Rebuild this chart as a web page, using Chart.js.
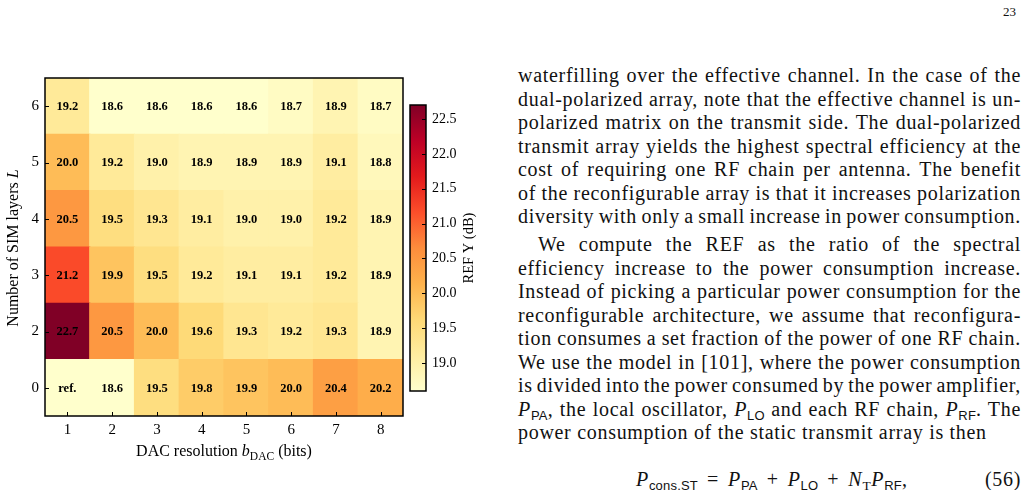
<!DOCTYPE html>
<html><head><meta charset="utf-8">
<script src="https://cdn.jsdelivr.net/npm/chart.js@4.4.1/dist/chart.umd.min.js"></script>
<style>
html,body{margin:0;padding:0;background:#fff;width:1026px;height:490px;overflow:hidden;position:relative;}
#heat{position:absolute;left:0;top:0;width:410px;height:490px;}
#cbar{position:absolute;left:400px;top:0;width:100px;height:490px;}
.ln{position:absolute;white-space:nowrap;font-family:"Liberation Serif",serif;font-size:20px;line-height:20px;letter-spacing:0.7px;color:#111;display:inline-block;}
.ss{font-family:"Liberation Sans",sans-serif;font-size:13px;letter-spacing:0.2px;position:relative;top:4px;}
.rs{font-family:"Liberation Serif",serif;font-size:13.5px;position:relative;top:4px;}
#pg{position:absolute;left:1003px;top:4px;font-family:"Liberation Serif",serif;font-size:13px;color:#111;}
</style></head>
<body>
<div id="heat"><canvas id="hc"></canvas></div>
<div id="cbar"><canvas id="cc"></canvas></div>
<div id="pg">23</div>
<div id="txt"></div>
<script>
// ---- chart data ----
const xLabels = ['1','2','3','4','5','6','7','8'];
const yLabels = ['0','2','3','4','5','6'];
const rowL0 = [null, 18.6, 19.5, 19.8, 19.9, 20.0, 20.4, 20.2];
const rowL2 = [22.7, 20.5, 20.0, 19.6, 19.3, 19.2, 19.3, 18.9];
const rowL3 = [21.2, 19.9, 19.5, 19.2, 19.1, 19.1, 19.2, 18.9];
const rowL4 = [20.5, 19.5, 19.3, 19.1, 19.0, 19.0, 19.2, 18.9];
const rowL5 = [20.0, 19.2, 19.0, 18.9, 18.9, 18.9, 19.1, 18.8];
const rowL6 = [19.2, 18.6, 18.6, 18.6, 18.6, 18.7, 18.9, 18.7];
const rows = [rowL0, rowL2, rowL3, rowL4, rowL5, rowL6];
const cbTicks = [19.0, 19.5, 20.0, 20.5, 21.0, 21.5, 22.0, 22.5];
const vmin = 18.6, vmax = 22.7;
const YLORRD = ['#ffffcc','#ffeda0','#fed976','#feb24c','#fd8d3c','#fc4e2a','#e31a1c','#bd0026','#800026'];

function hex2rgb(h){return [parseInt(h.slice(1,3),16),parseInt(h.slice(3,5),16),parseInt(h.slice(5,7),16)];}
function cmap(v){
  if (v === null) v = vmin;
  let t = (v - vmin) / (vmax - vmin); t = Math.max(0, Math.min(1, t));
  const p = t * (YLORRD.length - 1); const i = Math.min(Math.floor(p), YLORRD.length - 2); const f = p - i;
  const a = hex2rgb(YLORRD[i]), b = hex2rgb(YLORRD[i+1]);
  return 'rgb(' + a.map((c,k)=>Math.round(c + (b[k]-c)*f)).join(',') + ')';
}

const SERIF = '"Liberation Serif", serif';

const heatDecor = {
  id: 'heatDecor',
  afterDatasetsDraw(chart){
    const ctx = chart.ctx;
    ctx.save();
    ctx.font = 'bold 12.5px ' + SERIF;
    ctx.fillStyle = '#000'; ctx.textAlign = 'center'; ctx.textBaseline = 'middle';
    rows.forEach((row, di) => {
      const meta = chart.getDatasetMeta(di);
      meta.data.forEach((el, j) => {
        const cy = (el.y + el.base) / 2;
        const txt = row[j] === null ? 'ref.' : row[j].toFixed(1);
        ctx.fillText(txt, el.x, cy + 0.5);
      });
    });
    ctx.restore();
  },
  afterDraw(chart){
    const ctx = chart.ctx, a = chart.chartArea;
    ctx.save();
    ctx.strokeStyle = '#000'; ctx.lineWidth = 1.5;
    ctx.strokeRect(a.left, a.top, a.right - a.left, a.bottom - a.top);
    ctx.lineWidth = 1;
    ctx.beginPath();
    xLabels.forEach((_, j) => { const x = Math.round(chart.scales.x.getPixelForValue(j)) + 0.5; ctx.moveTo(x, a.bottom); ctx.lineTo(x, a.bottom - 4); });
    yLabels.forEach((_, i) => { const y = Math.round(chart.scales.y.getPixelForValue(i)) + 0.5; ctx.moveTo(a.left, y); ctx.lineTo(a.left + 4, y); });
    ctx.stroke();
    ctx.fillStyle = '#000'; ctx.textBaseline = 'alphabetic'; ctx.textAlign = 'left';
    // x title
    const f1 = '16px ' + SERIF, fi = 'italic 16px ' + SERIF, fs = '11.5px ' + SERIF;
    const parts = [['DAC resolution ', f1, 0], ['b', fi, 0], ['DAC', fs, 3.5], [' (bits)', f1, 0]];
    let w = 0; parts.forEach(p => { ctx.font = p[1]; w += ctx.measureText(p[0]).width; });
    let x = (a.left + a.right) / 2 - w / 2;
    parts.forEach(p => { ctx.font = p[1]; ctx.fillText(p[0], x, 456 + p[2]); x += ctx.measureText(p[0]).width; });
    // y title
    ctx.translate(18, (a.top + a.bottom) / 2 + 1);
    ctx.rotate(-Math.PI / 2);
    const yp = [['Number of SIM layers ', f1], ['L', fi]];
    w = 0; yp.forEach(p => { ctx.font = p[1]; w += ctx.measureText(p[0]).width; });
    x = -w / 2;
    yp.forEach(p => { ctx.font = p[1]; ctx.fillText(p[0], x, 0); x += ctx.measureText(p[0]).width; });
    ctx.restore();
  }
};

new Chart(document.getElementById('hc'), {
  type: 'bar',
  data: {
    labels: xLabels,
    datasets: rows.map((row, i) => ({
      label: 'L=' + yLabels[i],
      data: row.map(() => [i - 0.5, i + 0.5]),
      backgroundColor: row.map(v => cmap(v)),
      borderWidth: 0,
      grouped: false,
      barPercentage: 1,
      categoryPercentage: 1,
      inflateAmount: 0.6
    }))
  },
  options: {
    responsive: true, maintainAspectRatio: false, animation: false,
    layout: { padding: { top: 78, right: 7, bottom: 0, left: 0 } },
    plugins: { legend: { display: false }, tooltip: { enabled: false } },
    scales: {
      x: {
        grid: { display: false, drawTicks: false }, border: { display: false },
        ticks: { color: '#000', font: { family: SERIF, size: 15 }, padding: 5, autoSkip: false, maxRotation: 0 },
        afterFit(s){ s.height = 74; }
      },
      y: {
        type: 'linear', min: -0.5, max: 5.5,
        grid: { display: false, drawTicks: false }, border: { display: false },
        afterBuildTicks(s){ s.ticks = yLabels.map((_, i) => ({ value: i })); },
        ticks: { color: '#000', font: { family: SERIF, size: 15 }, padding: 6, autoSkip: false, callback: v => yLabels[v] },
        afterFit(s){ s.width = 45; }
      }
    }
  },
  plugins: [heatDecor]
});

const cbDecor = {
  id: 'cbDecor',
  afterDraw(chart){
    const ctx = chart.ctx, a = chart.chartArea;
    ctx.save();
    ctx.strokeStyle = '#000'; ctx.lineWidth = 1.5;
    ctx.strokeRect(a.left, a.top, a.right - a.left, a.bottom - a.top);
    ctx.lineWidth = 1; ctx.beginPath();
    cbTicks.forEach(v => { const y = Math.round(chart.scales.y.getPixelForValue(v)) + 0.5; ctx.moveTo(a.right, y); ctx.lineTo(a.right - 4, y); });
    ctx.stroke();
    ctx.translate(73, (a.top + a.bottom) / 2);
    ctx.rotate(-Math.PI / 2);
    ctx.font = '14.5px ' + SERIF; ctx.fillStyle = '#000'; ctx.textAlign = 'center'; ctx.textBaseline = 'alphabetic';
    ctx.fillText('REF \u03A5 (dB)', 0, 0);
    ctx.restore();
  }
};

new Chart(document.getElementById('cc'), {
  type: 'bar',
  data: {
    labels: [''],
    datasets: [{
      data: [[vmin, vmax]],
      borderWidth: 0, barPercentage: 1, categoryPercentage: 1,
      backgroundColor(c){
        const ch = c.chart, a = ch.chartArea;
        if (!a) return YLORRD[0];
        const ys = ch.scales.y;
        const g = ch.ctx.createLinearGradient(0, ys.getPixelForValue(vmin), 0, ys.getPixelForValue(vmax));
        YLORRD.forEach((col, i) => g.addColorStop(i / (YLORRD.length - 1), col));
        return g;
      }
    }]
  },
  options: {
    responsive: true, maintainAspectRatio: false, animation: false,
    layout: { padding: { top: 105, right: 0, bottom: 99, left: 10 } },
    plugins: { legend: { display: false }, tooltip: { enabled: false } },
    scales: {
      x: { display: false },
      y: {
        type: 'linear', position: 'right', min: vmin, max: vmax,
        grid: { display: false, drawTicks: false }, border: { display: false },
        afterBuildTicks(s){ s.ticks = cbTicks.map(v => ({ value: v })); },
        ticks: { color: '#000', font: { family: SERIF, size: 14 }, padding: 6, autoSkip: false, callback: v => v.toFixed(1) },
        afterFit(s){ s.width = 74; }
      }
    }
  },
  plugins: [cbDecor]
});

// ---- page text ----
const P = (s) => '<i>P</i><span class="ss">' + s + '</span>';
const lines = [
  ['waterfilling over the effective channel. In the case of the', 518, 82, true],
  ['dual-polarized array, note that the effective channel is un-', 518, 105.5, true],
  ['polarized matrix on the transmit side. The dual-polarized', 518, 129, true],
  ['transmit array yields the highest spectral efficiency at the', 518, 152.5, true],
  ['cost of requiring one RF chain per antenna. The benefit', 518, 176, true],
  ['of the reconfigurable array is that it increases polarization', 518, 199.5, true],
  ['diversity with only a small increase in power consumption.', 518, 223, true],
  ['We compute the REF as the ratio of the spectral', 538, 251, true],
  ['efficiency increase to the power consumption increase.', 518, 274.5, true],
  ['Instead of picking a particular power consumption for the', 518, 298, true],
  ['reconfigurable architecture, we assume that reconfigura-', 518, 321.5, true],
  ['tion consumes a set fraction of the power of one RF chain.', 518, 345, true],
  ['We use the model in [101], where the power consumption', 518, 368.5, true],
  ['is divided into the power consumed by the power amplifier,', 518, 392, true],
  [P('PA') + ', the local oscillator, ' + P('LO') + ' and each RF chain, ' + P('RF') + '. The', 518, 415.5, true],
  ['power consumption of the static transmit array is then', 518, 439, false]
];
const RIGHT = 1021;
const box = document.getElementById('txt');
lines.forEach(([html, left, base, just]) => {
  const d = document.createElement('div');
  d.className = 'ln'; d.innerHTML = html;
  d.style.left = left + 'px'; d.style.top = (base - 17) + 'px';
  box.appendChild(d);
  if (just) {
    const w = d.getBoundingClientRect().width;
    const n = (d.textContent.match(/ /g) || []).length;
    if (n > 0) d.style.wordSpacing = ((RIGHT - left - w) / n) + 'px';
  }
});
const eq = document.createElement('div');
eq.className = 'ln';
eq.innerHTML = P('cons.ST') + '<span style="margin:0 9px">=</span>' + P('PA') + '<span style="margin:0 9px">+</span>' + P('LO') + '<span style="margin:0 9px">+</span><i>N</i><span class="rs">T</span><i>P</i><span class="ss">RF</span>,';
eq.style.left = '636px'; eq.style.top = (486 - 17) + 'px';
box.appendChild(eq);
const num = document.createElement('div');
num.className = 'ln'; num.textContent = '(56)';
num.style.top = (486 - 17) + 'px';
box.appendChild(num);
num.style.left = (RIGHT - num.getBoundingClientRect().width) + 'px';
</script>
</body></html>
